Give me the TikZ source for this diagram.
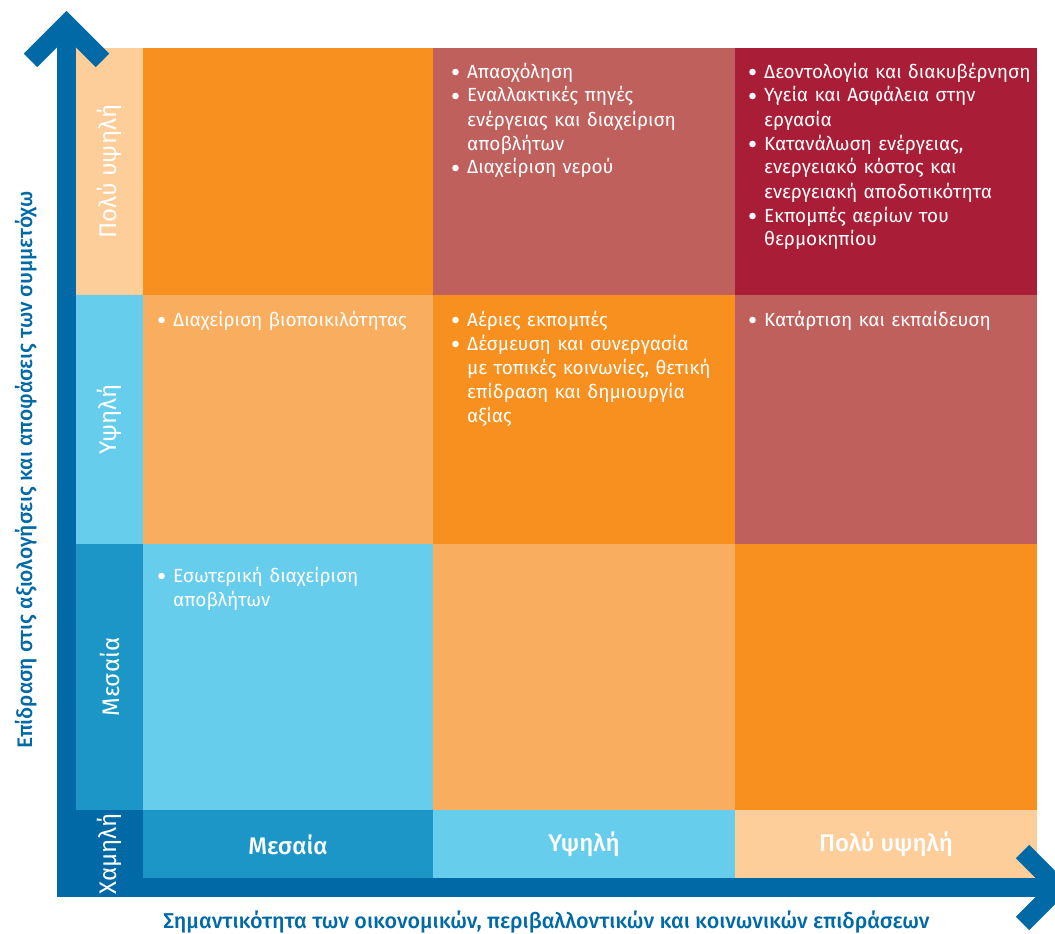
\documentclass[tikz,border=0pt]{standalone}
\usepackage{fontspec}
\setmainfont{Fira Sans}
\newfontfamily\labelfont{Fira Sans Medium}
\usetikzlibrary{positioning}

\definecolor{axisBlue}{HTML}{0069A6}
\definecolor{midBlue}{HTML}{1B96C6}
\definecolor{lightBlue}{HTML}{67CDEC}
\definecolor{peach}{HTML}{FDCD9A}
\definecolor{mainOrange}{HTML}{F7901E}
\definecolor{lightOrange}{HTML}{F9AD5F}
\definecolor{dustyRed}{HTML}{BF605C}
\definecolor{darkRed}{HTML}{AA1D37}

\newcommand{\itm}{\makebox[15pt][l]{%
  \tikz[baseline=0pt]\fill[white] (3.4pt,6pt) circle[radius=3.3pt];}}
\newcommand{\cnt}{\hspace*{15pt}}

\begin{document}
\begin{tikzpicture}[x=1pt, y=-1pt, node distance=0pt,
  block/.style={rectangle, inner sep=0pt, outer sep=0pt},
  item/.style={text=white, align=left, inner sep=0pt, anchor=base west,
    text width=290pt, font=\fontsize{19}{24}\selectfont},
  rowText/.style={text=white, inner sep=0pt, rotate=90,
    font=\fontsize{24}{28}\selectfont},
  colText/.style={text=white, inner sep=0pt,
    font=\labelfont\fontsize{24}{28}\selectfont},
  axisTitle/.style={text=axisBlue, inner sep=0pt, anchor=base,
    font=\labelfont\fontsize{21}{24}\selectfont},
  axisLine/.style={draw=axisBlue, line width=19pt, line join=miter}]
  \useasboundingbox (0,0) rectangle (1055,934);

  % row labels
  \node[block, fill=peach, minimum width=67pt, minimum height=247pt,
    anchor=north west] (labVh) at (76,48) {};
  \node[block, fill=lightBlue, minimum width=67pt, minimum height=249pt,
    below=of labVh] (labH) {};
  \node[block, fill=midBlue, minimum width=67pt, minimum height=266pt,
    below=of labH] (labM) {};
  \node[block, fill=axisBlue, minimum width=67pt, minimum height=69pt,
    below=of labM] (labLow) {};

  % matrix cells
  \node[block, fill=mainOrange, minimum width=290pt, minimum height=247pt,
    right=of labVh] (vhM) {};
  \node[block, fill=dustyRed, minimum width=302pt, minimum height=247pt,
    right=of vhM] (vhH) {};
  \node[block, fill=darkRed, minimum width=302pt, minimum height=247pt,
    right=of vhH] (vhVh) {};
  \node[block, fill=lightOrange, minimum width=290pt, minimum height=249pt,
    right=of labH] (hM) {};
  \node[block, fill=mainOrange, minimum width=302pt, minimum height=249pt,
    right=of hM] (hH) {};
  \node[block, fill=dustyRed, minimum width=302pt, minimum height=249pt,
    right=of hH] (hVh) {};
  \node[block, fill=lightBlue, minimum width=290pt, minimum height=266pt,
    right=of labM] (mM) {};
  \node[block, fill=lightOrange, minimum width=302pt, minimum height=266pt,
    right=of mM] (mH) {};
  \node[block, fill=mainOrange, minimum width=302pt, minimum height=266pt,
    right=of mH] (mVh) {};

  % column labels
  \node[block, fill=midBlue, minimum width=290pt, minimum height=69pt,
    right=of labLow] (colM) {};
  \node[block, fill=lightBlue, minimum width=302pt, minimum height=69pt,
    right=of colM] (colH) {};
  \node[block, fill=peach, minimum width=302pt, minimum height=69pt,
    right=of colH] (colVh) {};

  % axes
  \coordinate (yTip) at (66.5,24.4);
  \coordinate (origin) at (66.5,887.5);
  \coordinate (xTip) at (1058.5,887.5);
  \draw[axisLine] (yTip) -- (origin) -- (xTip);
  \draw[axisLine] ([shift={(-36,36)}]yTip) -- (yTip) -- ([shift={(36,36)}]yTip);
  \draw[axisLine] ([shift={(-36,-36)}]xTip) -- (xTip) -- ([shift={(-36,36)}]xTip);

  \node[rowText] (txtVh) at (labVh) {Πολύ υψηλή};
  \node[rowText] (txtH) at (labH) {Υψηλή};
  \node[rowText] (txtM) at (labM) {Μεσαία};
  \node[rowText] (txtLow) at (109,854) {Χαμηλή};
  \node[colText] (txtColM) at (colM) {Μεσαία};
  \node[colText] (txtColH) at (colH) {Υψηλή};
  \node[colText] (txtColVh) at (colVh) {Πολύ υψηλή};

  \node[axisTitle, font=\labelfont\fontsize{21.5}{24}\selectfont] (xTitle)
    at (546.5,928)
    {Σημαντικότητα των οικονομικών, περιβαλλοντικών και κοινωνικών επιδράσεων};
  \node[axisTitle, rotate=90] (yTitle) at (32,470)
    {Επίδραση στις αξιολογήσεις και αποφάσεις των συμμετόχω};

  % cell contents
  \node[item] (txtVhH) at ([xshift=19pt, yshift=-30pt]vhH.north west)
    {\itm Απασχόληση\\
     \itm Εναλλακτικές πηγές\\
     \cnt ενέργειας και διαχείριση\\
     \cnt αποβλήτων\\
     \itm Διαχείριση νερού};
  \node[item] (txtVhVh) at ([xshift=14pt, yshift=-30pt]vhVh.north west)
    {\itm Δεοντολογία και διακυβέρνηση\\
     \itm Υγεία και Ασφάλεια στην\\
     \cnt εργασία\\
     \itm Κατανάλωση ενέργειας,\\
     \cnt ενεργειακό κόστος και\\
     \cnt ενεργειακή αποδοτικότητα\\
     \itm Εκπομπές αερίων του\\
     \cnt θερμοκηπίου};
  \node[item] (txtHM) at ([xshift=15pt, yshift=-31pt]hM.north west)
    {\itm Διαχείριση βιοποικιλότητας};
  \node[item] (txtHH) at ([xshift=19pt, yshift=-31pt]hH.north west)
    {\itm Αέριες εκπομπές\\
     \itm Δέσμευση και συνεργασία\\
     \cnt με τοπικές κοινωνίες, θετική\\
     \cnt επίδραση και δημιουργία\\
     \cnt αξίας};
  \node[item] (txtHVh) at ([xshift=14pt, yshift=-31pt]hVh.north west)
    {\itm Κατάρτιση και εκπαίδευση};
  \node[item] (txtMM) at ([xshift=15pt, yshift=-38pt]mM.north west)
    {\itm Εσωτερική διαχείριση\\
     \cnt αποβλήτων};
\end{tikzpicture}
\end{document}
